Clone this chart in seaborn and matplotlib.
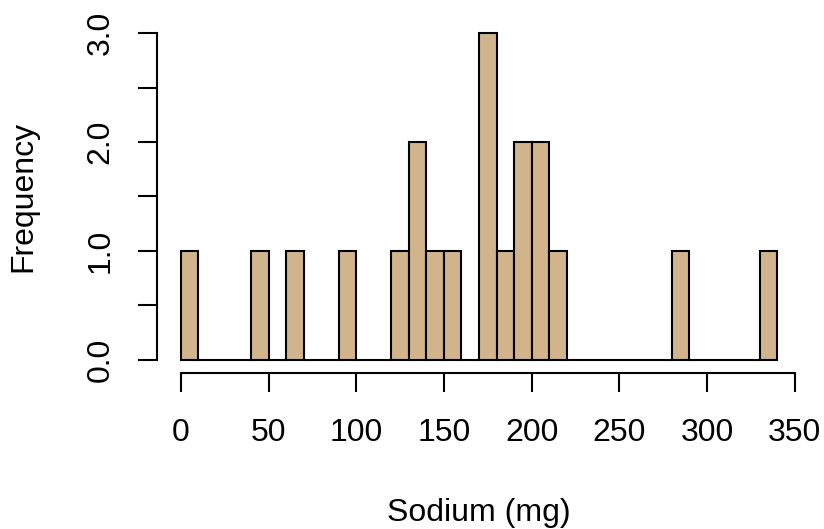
import numpy as np
import pandas as pd
import matplotlib
matplotlib.use("Agg")
import matplotlib.pyplot as plt
import seaborn as sns

# sodium histogram, bins of 10 mg (only non-empty bins listed)
bin_start = [0, 40, 60, 90, 120, 130, 140, 150, 170, 180, 190, 200, 210, 280, 330]
bin_count = [1, 1, 1, 1, 1, 2, 1, 1, 3, 1, 2, 2, 1, 1, 1]
x_ticks = [0, 50, 100, 150, 200, 250, 300, 350]
y_ticks = [0, 0.5, 1.0, 1.5, 2.0, 2.5, 3.0]
y_labels = ["0.0", "", "1.0", "", "2.0", "", "3.0"]

sns.set_style("white")
plt.rcParams["font.family"] = ["Liberation Sans", "DejaVu Sans"]

fig = plt.figure(figsize=(8.24, 5.29), dpi=100)
ax = fig.add_axes([157 / 824, (529 - 373) / 529, 644 / 824, 353 / 529])

df = pd.DataFrame({"sodium": np.array(bin_start) + 5, "n": bin_count})
sns.histplot(data=df, x="sodium", weights="n", binwidth=10, binrange=(0, 340),
             color="#D2B48C", alpha=1, edgecolor="black", linewidth=1.5, ax=ax)

ax.set_xlim(-13.6, 353.6)
ax.set_ylim(-0.12, 3.12)
for s in ["top", "right"]:
    ax.spines[s].set_visible(False)
for s in ["left", "bottom"]:
    ax.spines[s].set_color("black")
    ax.spines[s].set_linewidth(1.5)
ax.spines["bottom"].set_bounds(0, 350)
ax.spines["left"].set_bounds(0, 3)

ax.set_xticks(x_ticks)
ax.set_yticks(y_ticks)
ax.set_yticklabels(y_labels, rotation=90, va="center")
ax.tick_params(axis="both", bottom=True, left=True, direction="out", length=13.5,
               width=1.5, color="black", labelsize=23, labelcolor="black")
ax.tick_params(axis="x", pad=19)
ax.tick_params(axis="y", pad=16.5)
ax.set_xlabel("Sodium (mg)", fontsize=23, labelpad=36, color="black")
ax.set_ylabel("Frequency", fontsize=23, labelpad=34, color="black")

fig.savefig("out.png", dpi=100)
